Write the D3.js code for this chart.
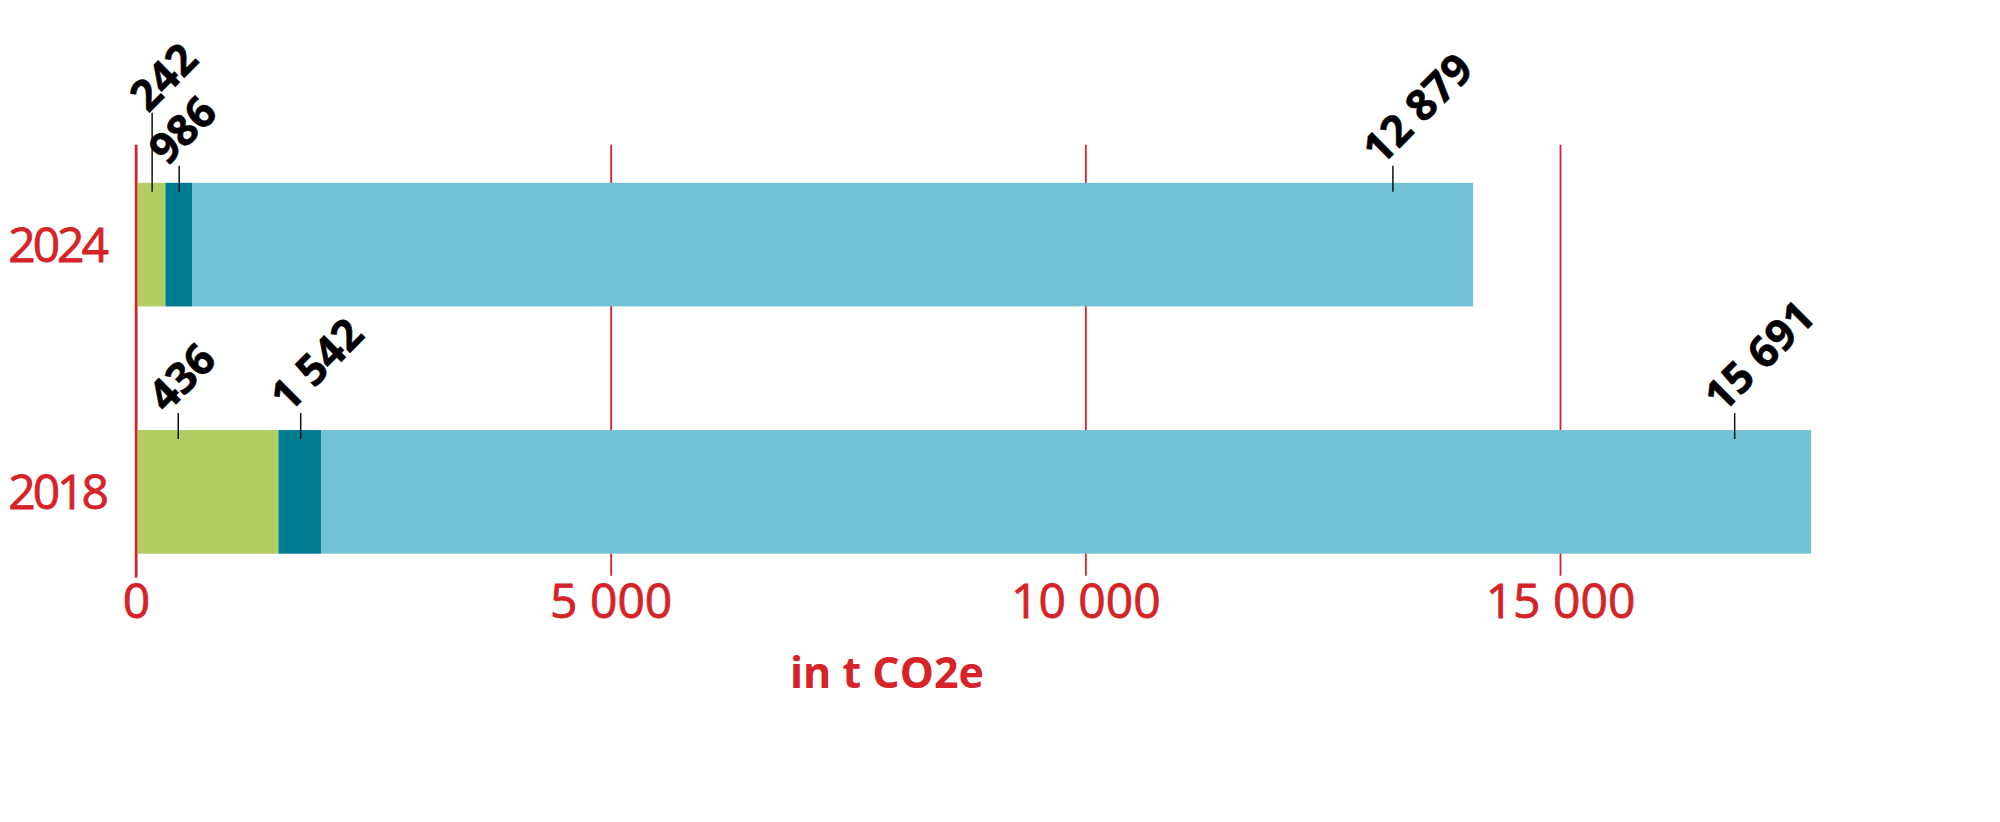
<!DOCTYPE html>
<html>
<head>
<meta charset="utf-8">
<script src="https://cdn.jsdelivr.net/npm/d3@7"></script>
<style>
body { margin: 0; background: #fff; }
text { font-family: "Open Sans", sans-serif; }
</style>
</head>
<body>
<script>
// categories and segment keys
var years = ["2024", "2018"];
var keys = ["green", "dark", "light"];

// segment values as drawn (t CO2e)
var green = [310, 1500];
var dark = [285, 450];
var light = [13490, 15695];

// printed value labels and the value their leader points at
var labels2024 = ["242", "986", "12 879"];
var labels2018 = ["436", "1 542", "15 691"];
var labelAt2024 = [170, 455, 13240];
var labelAt2018 = [445, 1735, 16840];

var ticks = [0, 5000, 10000, 15000];
var unit = "in t CO2e";

var width = 2000,
    height = 822;

var colors = {green: "#b1cd61", dark: "#007c91", light: "#72c2d5"};
var red = "#d52328";

var x = d3.scaleLinear()
    .domain([0, 15000])
    .range([136, 1560]);

var y = d3.scaleBand()
    .domain(years)
    .range([121, 615.5])
    .paddingInner(0.5)
    .paddingOuter(0.25);

var rows = years.map(function(yr, i) {
    return {year: yr, green: green[i], dark: dark[i], light: light[i]};
});
var series = d3.stack().keys(keys)(rows);

var fmt = d3.formatLocale({decimal: ",", thousands: " ", grouping: [3], currency: ["", ""]}).format(",d");

var svg = d3.select("body")
    .append("svg")
    .attr("width", width)
    .attr("height", height);

var gridTop = y("2024") - 38,
    gridBottom = y("2018") + y.bandwidth() + 22;

// axis: tick lines reach up as the red grid
var axis = svg.append("g")
    .attr("transform", "translate(0," + gridBottom + ")")
    .call(d3.axisBottom(x)
        .tickValues(ticks)
        .tickFormat(fmt)
        .tickSizeInner(-(gridBottom - gridTop))
        .tickSizeOuter(0)
        .tickPadding(8));

axis.select(".domain").remove();
axis.selectAll(".tick line")
    .attr("stroke", red)
    .attr("stroke-width", 1.8);
axis.selectAll(".tick text")
    .attr("fill", red)
    .attr("stroke", red)
    .attr("stroke-width", 0.8)
    .attr("font-size", "48px")
    .attr("font-family", "Open Sans, sans-serif");

// stacked bars
svg.append("g")
    .selectAll("g")
    .data(series)
    .enter()
    .append("g")
    .attr("fill", function(d) { return colors[d.key]; })
    .selectAll("rect")
    .data(function(d) { return d; })
    .enter()
    .append("rect")
    .attr("x", function(d) { return x(d[0]); })
    .attr("width", function(d) { return x(d[1]) - x(d[0]); })
    .attr("y", function(d) { return y(d.data.year); })
    .attr("height", y.bandwidth());

// zero line on top
svg.append("line")
    .attr("x1", x(0)).attr("x2", x(0))
    .attr("y1", gridTop).attr("y2", gridBottom + 2)
    .attr("stroke", red)
    .attr("stroke-width", 2.5);

// year labels
svg.append("g")
    .selectAll("text")
    .data(years)
    .enter()
    .append("text")
    .attr("x", 106)
    .attr("y", function(d) { return y(d) + y.bandwidth() / 2; })
    .attr("dy", "0.36em")
    .attr("text-anchor", "end")
    .attr("fill", red)
    .attr("stroke", red)
    .attr("stroke-width", 0.8)
    .attr("font-size", "48px")
    .attr("letter-spacing", "-3px")
    .text(function(d) { return d; });

// value labels with leaders
var labelSets = {"2024": [labels2024, labelAt2024], "2018": [labels2018, labelAt2018]};
var callouts = [];
years.forEach(function(yr) {
    var txt = labelSets[yr][0], at = labelSets[yr][1];
    txt.forEach(function(t, j) {
        var lx = x(at[j]);
        // lift a label when the next one sits too close
        var lift = (j < at.length - 1 && x(at[j + 1]) - lx < 40) ? 53 : 0;
        callouts.push({year: yr, text: t, x: lx, top: y(yr) - 17 - lift, bottom: y(yr) + 9, lifted: lift > 0});
    });
});

var co = svg.append("g")
    .selectAll("g")
    .data(callouts)
    .enter()
    .append("g");

co.append("line")
    .attr("x1", function(d) { return d.x; })
    .attr("x2", function(d) { return d.x; })
    .attr("y1", function(d) { return d.top; })
    .attr("y2", function(d) { return d.bottom; })
    .attr("stroke", "#111")
    .attr("stroke-width", 1.5);

co.append("text")
    .attr("transform", function(d) {
        var dx = d.lifted ? -4 : -12;
        return "translate(" + (d.x + dx) + "," + (d.top + 1) + ") rotate(-45)";
    })
    .attr("font-size", "43px")
    .attr("font-weight", "bold")
    .attr("fill", "#000")
    .attr("stroke", "#000")
    .attr("stroke-width", 0.6)
    .text(function(d) { return d.text; });

// unit
svg.append("text")
    .attr("x", 887)
    .attr("y", 688)
    .attr("text-anchor", "middle")
    .attr("fill", red)
    .attr("font-size", "43px")
    .attr("font-weight", "bold")
    .text(unit);
</script>
</body>
</html>
